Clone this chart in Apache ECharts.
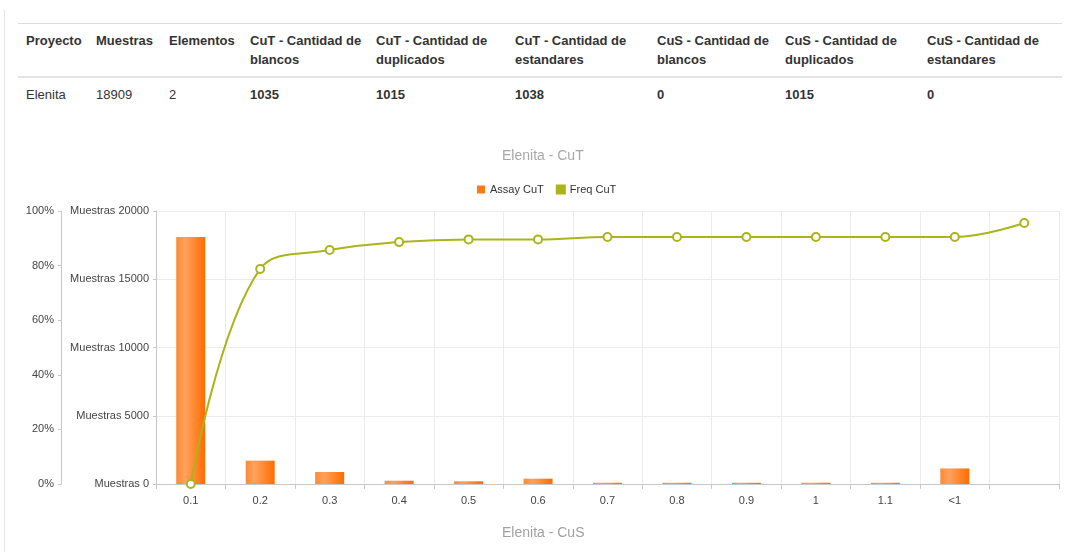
<!DOCTYPE html>
<html>
<head>
<meta charset="utf-8">
<script src="https://cdn.jsdelivr.net/npm/echarts@6/dist/echarts.min.js"></script>
<style>
  html, body { margin: 0; padding: 0; background: #fff; width: 1069px; height: 552px; overflow: hidden; }
  body { font-family: "Liberation Sans", Arial, sans-serif; position: relative; }
  #panelLine { position: absolute; left: 4px; top: 10px; width: 1px; height: 542px; background: #e4e4e4; z-index: 5; }
  #resumen { position: absolute; left: 18px; top: 23px; border-collapse: collapse; table-layout: fixed; width: 1044px; font-size: 13px; color: #333; }
  #resumen td, #resumen th { padding: 7px 8px; line-height: 19px; text-align: left; vertical-align: top; white-space: nowrap; }
  #resumen thead th { border-top: 1px solid #ddd; border-bottom: 2px solid #e4e4e4; font-weight: bold; }
  #resumen tbody td.b { font-weight: bold; }
  #charts { position: absolute; left: 0; top: 130px; width: 1069px; height: 422px; }
</style>
</head>
<body>
<div id="panelLine"></div>
<table id="resumen">
  <colgroup>
    <col style="width:70px"><col style="width:73px"><col style="width:81px"><col style="width:126px"><col style="width:139px">
    <col style="width:142px"><col style="width:128px"><col style="width:142px"><col style="width:143px">
  </colgroup>
  <thead>
    <tr>
      <th>Proyecto</th><th>Muestras</th><th>Elementos</th>
      <th>CuT - Cantidad de<br>blancos</th><th>CuT - Cantidad de<br>duplicados</th><th>CuT - Cantidad de<br>estandares</th>
      <th>CuS - Cantidad de<br>blancos</th><th>CuS - Cantidad de<br>duplicados</th><th>CuS - Cantidad de<br>estandares</th>
    </tr>
  </thead>
  <tbody>
    <tr>
      <td>Elenita</td><td>18909</td><td>2</td>
      <td class="b">1035</td><td class="b">1015</td><td class="b">1038</td>
      <td class="b">0</td><td class="b">1015</td><td class="b">0</td>
    </tr>
  </tbody>
</table>
<div id="charts"></div>
<script>
  // categorias del eje x (la ultima va vacia)
  var categorias = ['0.1', '0.2', '0.3', '0.4', '0.5', '0.6', '0.7', '0.8', '0.9', '1', '1.1', '<1', ''];
  // cantidad de muestras por categoria
  var assayCuT = [18100, 1710, 880, 240, 200, 390, 90, 90, 90, 90, 90, 1140, null];
  // frecuencia acumulada (%)
  var freqCuT = [0, 78.8, 85.7, 88.6, 89.6, 89.6, 90.5, 90.5, 90.5, 90.5, 90.5, 90.5, 95.6];

  var fuente = '"Liberation Sans", Arial, sans-serif';
  var naranja = new echarts.graphic.LinearGradient(0, 0, 1, 0, [
    { offset: 0, color: '#ff8a35' },
    { offset: 0.3, color: '#ffa25c' },
    { offset: 1, color: '#ff6c00' }
  ]);
  var oliva = '#abb51a';

  var myChart = echarts.init(document.getElementById('charts'));
  var option = {
    backgroundColor: 'transparent',
    animation: false,
    textStyle: { fontFamily: fuente },
    title: [
      {
        text: 'Elenita - CuT',
        left: 497,
        top: 14,
        textStyle: { color: '#a8a8a8', fontSize: 14, fontWeight: 'normal', fontFamily: fuente }
      },
      {
        // nombre del eje x, centrado igual que el titulo
        text: 'Elenita - CuS',
        left: 497,
        top: 391,
        textStyle: { color: '#a0a0a0', fontSize: 14, fontWeight: 'normal', fontFamily: fuente }
      }
    ],
    legend: {
      top: 49,
      left: 472,
      icon: 'rect',
      itemWidth: 8,
      itemHeight: 8,
      itemGap: 12,
      textStyle: { color: '#333', fontSize: 11, fontFamily: fuente },
      data: [
        { name: 'Assay CuT', itemStyle: { color: '#ff7b12' } },
        { name: 'Freq CuT', itemStyle: { color: oliva } }
      ]
    },
    grid: {
      top: 81,
      bottom: 68,
      left: 156,
      right: 10
    },
    xAxis: {
      type: 'category',
      data: categorias,
      boundaryGap: true,
      axisLine: { show: true, lineStyle: { color: '#c8c8c8', width: 1 } },
      axisTick: { show: true, length: 5, lineStyle: { color: '#c8c8c8' } },
      axisLabel: { color: '#444', fontSize: 11, margin: 11, interval: 0 },
      splitLine: { show: true, lineStyle: { color: '#ececec', type: 'solid' } }
    },
    yAxis: [
      {
        type: 'value',
        position: 'left',
        offset: 95,
        min: 0,
        max: 100,
        interval: 20,
        axisLine: { show: true, lineStyle: { color: '#c8c8c8' } },
        axisTick: { show: true, length: 3, lineStyle: { color: '#c8c8c8' } },
        axisLabel: { formatter: '{value}%', color: '#444', fontSize: 11, margin: 7 },
        splitLine: { show: false }
      },
      {
        type: 'value',
        position: 'left',
        offset: 0,
        min: 0,
        max: 20000,
        interval: 5000,
        axisLine: { show: true, lineStyle: { color: '#c8c8c8' } },
        axisTick: { show: true, length: 3, lineStyle: { color: '#c8c8c8' } },
        axisLabel: {
          formatter: function (v) { return 'Muestras ' + v; },
          color: '#444', fontSize: 11, margin: 7
        },
        splitLine: { show: true, lineStyle: { color: '#ececec', type: 'solid' } }
      }
    ],
    series: [
      {
        name: 'Assay CuT',
        type: 'bar',
        yAxisIndex: 1,
        barWidth: 29,
        itemStyle: { color: naranja, borderRadius: 0 },
        data: assayCuT
      },
      {
        name: 'Freq CuT',
        type: 'line',
        yAxisIndex: 0,
        smooth: 0.4,
        symbol: 'circle',
        symbolSize: 8,
        lineStyle: { color: oliva, width: 2 },
        itemStyle: { color: '#fff', borderColor: oliva, borderWidth: 2 },
        data: freqCuT
      }
    ]
  };
  myChart.setOption(option);
</script>
</body>
</html>
